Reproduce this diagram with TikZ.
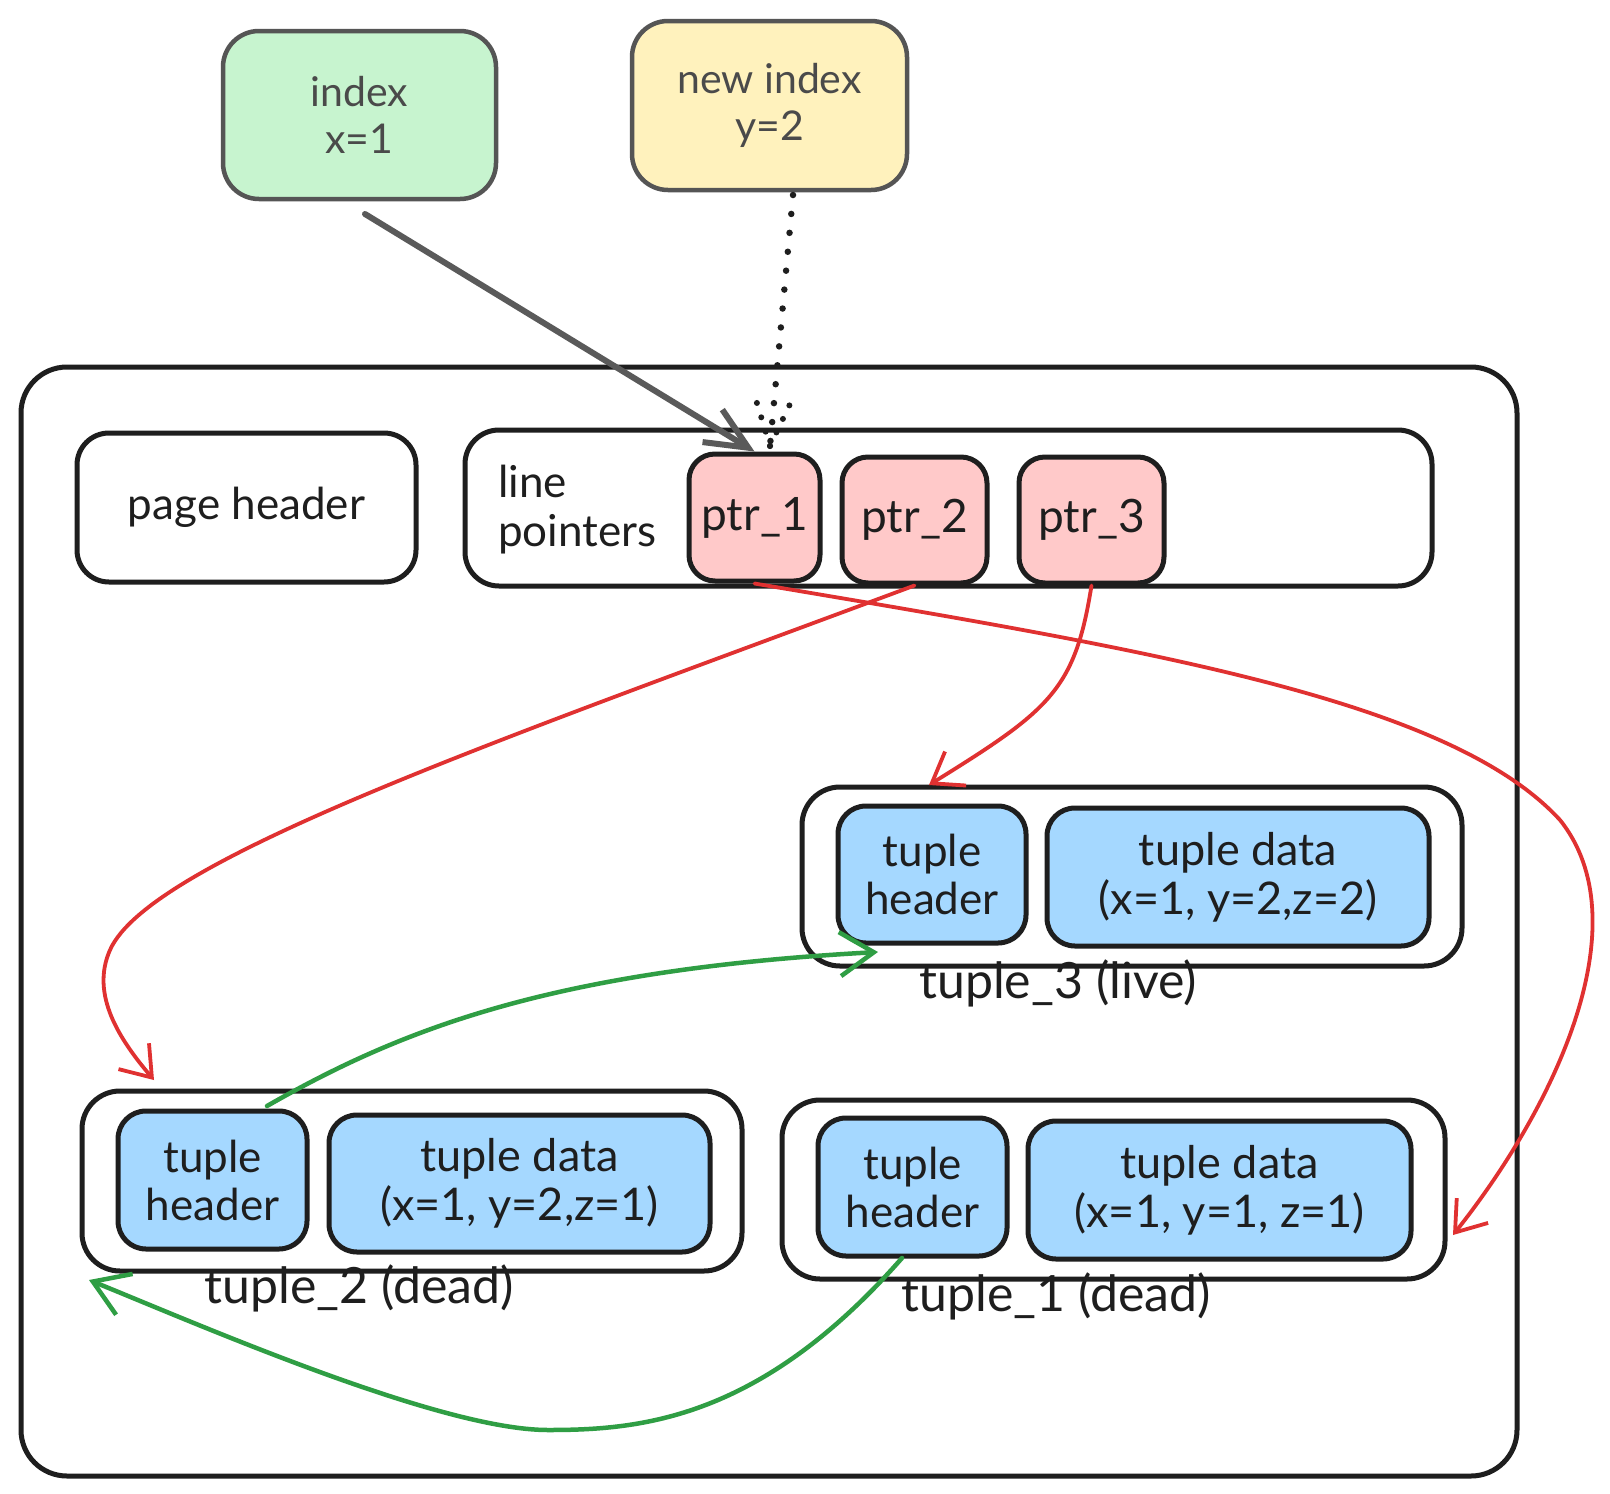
\documentclass[tikz,border=0pt]{standalone}
\usepackage{fontspec}
\setmainfont{Lato}
\usetikzlibrary{arrows.meta}
\definecolor{ink}{HTML}{1E1E1E}
\definecolor{greyline}{HTML}{555555}
\definecolor{greytext}{HTML}{4A4A4A}
\definecolor{idxgreen}{HTML}{C7F4CF}
\definecolor{idxyellow}{HTML}{FFF2BD}
\definecolor{ptrpink}{HTML}{FFC9C9}
\definecolor{tupblue}{HTML}{A5D8FF}
\definecolor{arrred}{HTML}{E03131}
\definecolor{arrgreen}{HTML}{2F9E44}
\definecolor{arrgrey}{HTML}{5A5A5A}
\begin{document}
\begin{tikzpicture}[x=1pt,y=-1pt,
  box/.style={draw=ink, line width=5pt, rounded corners=28pt, inner sep=0pt, align=center,
    text=ink, font=\fontsize{44}{48}\selectfont},
  idxbox/.style={box, line width=4.5pt, draw=greyline, text=greytext, font=\fontsize{41}{47}\selectfont,
    minimum width=273pt, minimum height=168pt, rounded corners=36pt},
  ptrbox/.style={box, fill=ptrpink, font=\fontsize{46}{50}\selectfont, minimum height=126pt, rounded corners=26pt},
  tupouter/.style={box, minimum width=660pt, minimum height=179pt, rounded corners=38pt},
  tuphdr/.style={box, fill=tupblue, minimum width=188pt, minimum height=137pt, rounded corners=28pt},
  tupdata/.style={box, fill=tupblue, minimum width=382pt, minimum height=138pt, rounded corners=28pt,
    font=\fontsize{45}{49}\selectfont},
  tuplabel/.style={inner sep=0pt, text=ink, font=\fontsize{50}{54}\selectfont},
  redarrow/.style={draw=arrred, line width=3.8pt, line cap=round, -{Straight Barb[length=28pt,width=40pt]}},
  greenarrow/.style={draw=arrgreen, line width=4.5pt, line cap=round, -{Straight Barb[length=34pt,width=44pt]}},
]
\useasboundingbox (0,0) rectangle (1610,1494);
\fill[white] (0,0) rectangle (1610,1494);

% outer page
\node[box, minimum width=1496pt, minimum height=1109pt, rounded corners=46pt] (page) at (769,921.5) {};

% indexes
\node[idxbox, fill=idxgreen] (index) at (359.5,115) {index\\x=1};
\node[idxbox, fill=idxyellow, minimum width=275pt, minimum height=169pt] (newidx) at (769.5,105.5) {new index\\y=2};

% page header and line pointers
\node[box, minimum width=339pt, minimum height=149pt, rounded corners=32pt] (pagehdr) at (246.5,507.5) {page header};
\node[box, minimum width=967pt, minimum height=156pt, rounded corners=34pt] (lp) at (948.5,508) {};
\node[anchor=west, align=left, inner sep=0pt, text=ink, font=\fontsize{44}{49}\selectfont] (lptxt) at (498,510) {line\\pointers};
\node[ptrbox, minimum width=131pt, minimum height=127pt] (ptr1) at (754.5,517.5) {ptr\_1};
\node[ptrbox, minimum width=145pt] (ptr2) at (914.5,520) {ptr\_2};
\node[ptrbox, minimum width=145pt] (ptr3) at (1091.5,520) {ptr\_3};

% tuple 3
\node[tupouter] (t3) at (1132,876.5) {};
\node[tuphdr] (t3h) at (932,874.5) {tuple\\header};
\node[tupdata] (t3d) at (1238,877) {tuple data\\(x=1, y=2,z=2)};
\node[tuplabel] (t3l) at (1058,983) {tuple\_3 (live)};

% tuple 2
\node[tupouter, minimum height=180pt] (t2) at (412,1181) {};
\node[tuphdr, minimum width=189pt, minimum height=138pt] (t2h) at (212.5,1180) {tuple\\header};
\node[tupdata, minimum width=381pt, minimum height=137pt] (t2d) at (519.5,1183.5) {tuple data\\(x=1, y=2,z=1)};
\node[tuplabel] (t2l) at (359,1288) {tuple\_2 (dead)};

% tuple 1
\node[tupouter, minimum width=663pt] (t1) at (1113.5,1189.5) {};
\node[tuphdr, minimum width=189pt, minimum height=138pt] (t1h) at (912.5,1187) {tuple\\header};
\node[tupdata, minimum width=383pt] (t1d) at (1219.5,1190) {tuple data\\(x=1, y=1, z=1)};
\node[tuplabel] (t1l) at (1056,1296) {tuple\_1 (dead)};

% connector end points
\coordinate (idxout) at (365,214);
\coordinate (nidxout) at (793,195);
\coordinate (dottip) at (770,446);
\coordinate (r1end) at (1453,1235);
\coordinate (r2end) at (154,1080);
\coordinate (r3end) at (929,785);
\coordinate (g1start) at (267,1106);
\coordinate (g1end) at (878,952);
\coordinate (g2start) at (902,1258);
\coordinate (g2end) at (89,1280);

% index -> ptr_1
\draw[draw=arrgrey, line width=6pt, line cap=round, -{Straight Barb[length=42pt,width=38pt]}] (idxout) -- (ptr1.north);

% new index -> ptr_1 (dotted)
\draw[ink, line width=6.5pt, line cap=round, dash pattern=on 0pt off 19pt] (nidxout) -- (dottip);
\draw[ink, line width=6pt, line cap=round, dash pattern=on 0pt off 15pt] (dottip) -- ++(-14,-46);
\draw[ink, line width=6pt, line cap=round, dash pattern=on 0pt off 15pt] (dottip) -- ++(21,-44);

% red line pointer arrows
\draw[redarrow] (ptr1.south) .. controls (1150,650) and (1450,700) .. (1560,820)
  .. controls (1640,920) and (1560,1100) .. (r1end);
\draw[redarrow] (ptr2.south) .. controls (500,740) and (150,860) .. (110,950)
  .. controls (90,995) and (120,1040) .. (r2end);
\draw[redarrow] (ptr3.south) .. controls (1075,690) and (1050,710) .. (r3end);

% green HOT chain arrows
\draw[greenarrow] (g1start) .. controls (400,1030) and (550,970) .. (g1end);
\draw[greenarrow] (g2start) .. controls (760,1420) and (640,1430) .. (548,1430)
  .. controls (440,1430) and (200,1325) .. (g2end);
\end{tikzpicture}
\end{document}
